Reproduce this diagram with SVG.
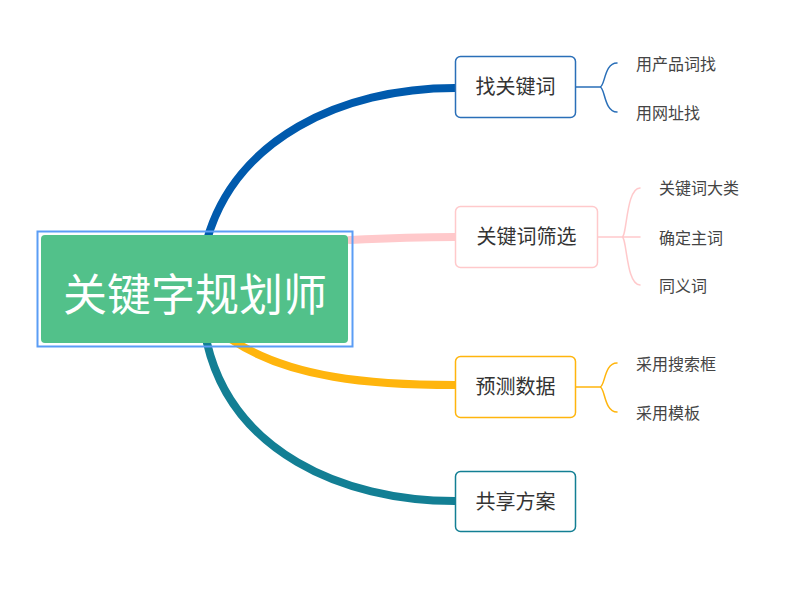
<svg xmlns="http://www.w3.org/2000/svg" width="800" height="600" viewBox="0 0 800 600">
<style>
text{font-family:"Microsoft YaHei","Noto Sans CJK SC",sans-serif;fill:#333}
.n{font-size:20px;text-anchor:middle}
.s{font-size:16px;fill:#444}
.b{fill:none;stroke-linecap:round}
</style>
<rect width="800" height="600" fill="#fff"/>
<g id="connectors">
<path class="b" d="M207,240 C235,140 340,88 455,88" stroke="#005aad" stroke-width="8"/>
<path class="b" d="M350,240 C390,238 420,237 455,237" stroke="#ffc9cb" stroke-width="8"/>
<path class="b" d="M232,340 C290,378 370,385 455,385" stroke="#ffb50d" stroke-width="8"/>
<path class="b" d="M207,343 C232,450 340,501 455,501" stroke="#137f94" stroke-width="8"/>
<path class="b" d="M575,87 H600 M617,63 C604,63 605,87 600,87 C605,87 604,112 617,112" stroke="#2a6fb8" stroke-width="1.5"/>
<path class="b" d="M597,237 H640 M640,188 C626,188 627,237 622,237 C627,237 626,285 640,285" stroke="#ffc9cb" stroke-width="1.5"/>
<path class="b" d="M575,387 H600 M617,363 C604,363 605,387 600,387 C605,387 604,412 617,412" stroke="#ffb50d" stroke-width="1.5"/>
</g>
<g id="root">
<rect x="37.5" y="231.5" width="315" height="115" fill="none" stroke="#5b9df5" stroke-width="2"/>
<rect x="41" y="235" width="307" height="108" rx="4" fill="#52c18a"/>
<text x="195" y="311" font-size="44" text-anchor="middle" style="fill:#fff">关键字规划师</text>
</g>
<g id="n1">
<rect x="455.5" y="56.5" width="120" height="61" rx="5" fill="#fff" stroke="#2a6fb8" stroke-width="1.5"/>
<text class="n" x="515.5" y="94">找关键词</text>
<text class="s" x="636" y="70">用产品词找</text>
<text class="s" x="636" y="119">用网址找</text>
</g>
<g id="n2">
<rect x="455.5" y="206.5" width="142" height="61" rx="5" fill="#fff" stroke="#ffc9cb" stroke-width="1.5"/>
<text class="n" x="526.5" y="244">关键词筛选</text>
<text class="s" x="659" y="194">关键词大类</text>
<text class="s" x="659" y="244">确定主词</text>
<text class="s" x="659" y="292">同义词</text>
</g>
<g id="n3">
<rect x="455.5" y="356.5" width="120" height="61" rx="5" fill="#fff" stroke="#ffb50d" stroke-width="1.5"/>
<text class="n" x="515.5" y="394">预测数据</text>
<text class="s" x="636" y="370">采用搜索框</text>
<text class="s" x="636" y="419">采用模板</text>
</g>
<g id="n4">
<rect x="455.5" y="471.5" width="120" height="60" rx="5" fill="#fff" stroke="#137f94" stroke-width="1.5"/>
<text class="n" x="515.5" y="509">共享方案</text>
</g>
</svg>
